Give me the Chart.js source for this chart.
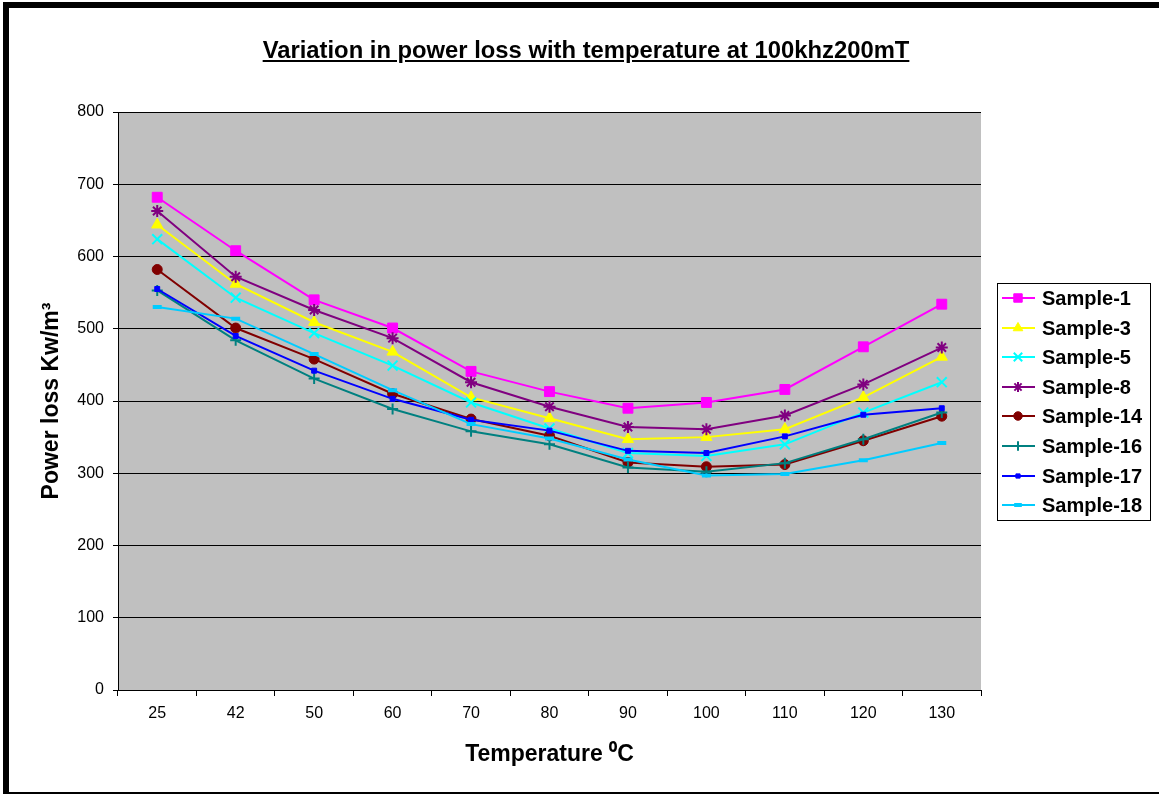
<!DOCTYPE html>
<html>
<head>
<meta charset="utf-8">
<script src="https://cdn.jsdelivr.net/npm/chart.js@4.4.1/dist/chart.umd.min.js"></script>
<style>
  html, body { margin: 0; padding: 0; background: #fff; }
  body { width: 1159px; height: 795px; position: relative; overflow: hidden; font-family: Arial, "Liberation Sans", sans-serif; }
  #frame { position: absolute; left: 3px; top: 2px; width: 1200px; height: 784px; border-left: 6px solid #000; border-top: 6px solid #000; border-bottom: 2px solid #000; }
  #title { position: absolute; left: 0; top: 38px; width: 1172px; text-align: center; font-weight: bold; font-size: 23.8px; line-height: 24px; text-decoration: underline; color: #000; }
  #c { position: absolute; left: 0; top: 0; }
</style>
</head>
<body>
<div id="frame"></div>
<canvas id="c" width="1159" height="795"></canvas>
<div id="title">Variation in power loss with temperature at 100khz200mT</div>
<script>
/* power loss (kW/m3) vs temperature, 100 kHz / 200 mT */
const temps = ['25', '42', '50', '60', '70', '80', '90', '100', '110', '120', '130'];
const sample1  = [682, 608, 540, 501, 441, 413, 390, 398, 416, 475, 534];
const sample3  = [644, 562, 509, 468, 405, 376, 347, 350, 361, 405, 461];
const sample5  = [624, 543, 494, 449, 398, 362, 328, 324, 340, 384, 426];
const sample8  = [663, 572, 526, 487, 426, 392, 364, 361, 380, 423, 474];
const sample14 = [582, 501, 458, 410, 375, 352, 315, 309, 312, 345, 379];
const sample16 = [553, 484, 431, 389, 358, 340, 308, 302, 314, 347, 384];
const sample17 = [555, 490, 442, 403, 374, 359, 331, 328, 351, 381, 390];
const sample18 = [530, 514, 465, 415, 368, 348, 319, 297, 299, 318, 342];
const yMin = 0, yMax = 800, yStep = 100;

function series(label, data, color, style, radius, bw) {
  return { label, data, borderColor: color, backgroundColor: color, borderWidth: 2,
    pointStyle: style, pointRadius: radius, pointHoverRadius: radius, pointBorderWidth: bw,
    pointBorderColor: color, pointBackgroundColor: color, fill: false, tension: 0 };
}

const datasets = [
  series('Sample-1',  sample1,  '#ff00ff', 'rect', 7, 1),
  series('Sample-3',  sample3,  '#ffff00', 'triangle', 6.5, 1),
  series('Sample-5',  sample5,  '#00ffff', 'crossRot', 7, 2),
  series('Sample-8',  sample8,  '#800080', 'star', 6, 2),
  series('Sample-14', sample14, '#800000', 'circle', 5, 1),
  series('Sample-16', sample16, '#008080', 'cross', 5.5, 2),
  series('Sample-17', sample17, '#0000ff', 'rect', 3.5, 1),
  series('Sample-18', sample18, '#00ccff', 'line', 4.5, 4),
];
// excel paints later series on top
datasets.forEach((d, i) => { d.order = datasets.length - i; });

const plotBg = {
  id: 'plotBg',
  beforeDraw(chart) {
    const { ctx, chartArea: a } = chart;
    ctx.save();
    ctx.fillStyle = '#c0c0c0';
    ctx.fillRect(a.left, a.top, a.right - a.left, a.bottom - a.top);
    ctx.restore();
  }
};

// legend in a bordered box, line + marker like the spreadsheet one
const boxLegend = {
  id: 'boxLegend',
  afterDraw(chart) {
    const { ctx, chartArea: a } = chart;
    const x0 = a.right + 16, y0 = 283, w = 153, h = 237, rowH = 29.6;
    ctx.save();
    ctx.fillStyle = '#fff';
    ctx.fillRect(x0, y0, w, h);
    ctx.strokeStyle = '#000';
    ctx.lineWidth = 1;
    ctx.strokeRect(x0 + 0.5, y0 + 0.5, w, h);
    chart.data.datasets.forEach((ds, i) => {
      const y = Math.round(y0 + 15 + i * rowH);
      ctx.strokeStyle = ds.borderColor;
      ctx.fillStyle = ds.backgroundColor;
      ctx.lineWidth = 2;
      ctx.beginPath();
      ctx.moveTo(x0 + 5, y);
      ctx.lineTo(x0 + 38, y);
      ctx.stroke();
      ctx.lineWidth = ds.pointBorderWidth;
      if (Chart.helpers && Chart.helpers.drawPoint) {
        Chart.helpers.drawPoint(ctx, { pointStyle: ds.pointStyle, radius: ds.pointRadius * 0.85, borderWidth: ds.pointBorderWidth, rotation: 0 }, x0 + 21, y);
      }
      ctx.fillStyle = '#000';
      ctx.font = 'bold 20px Arial, "Liberation Sans", sans-serif';
      ctx.textBaseline = 'middle';
      ctx.textAlign = 'left';
      ctx.fillText(ds.label, x0 + 45, y + 1);
    });
    ctx.restore();
  }
};

const ctx = document.getElementById('c').getContext('2d');
new Chart(ctx, {
  type: 'line',
  data: { labels: temps, datasets },
  plugins: [plotBg, boxLegend],
  options: {
    responsive: false,
    animation: false,
    layout: { padding: { left: 10, right: 178, top: 112, bottom: 0 } },
    plugins: { legend: { display: false }, title: { display: false }, tooltip: { enabled: false } },
    scales: {
      x: {
        offset: true,
        grid: { offset: true, drawOnChartArea: false, color: '#000', tickColor: '#000', tickLength: 6 },
        border: { color: '#000', width: 1 },
        ticks: { color: '#000', font: { family: 'Arial', size: 16 }, padding: 8, maxRotation: 0, autoSkip: false },
        title: { display: true, text: 'Temperature \u2070C', color: '#000', font: { family: 'Arial', size: 23, weight: 'bold' }, padding: { top: 0, bottom: 27 } },
        afterFit(s) { s.height = 105; }
      },
      y: {
        min: yMin, max: yMax,
        grid: { color: '#000', tickColor: '#000', tickLength: 5 },
        border: { color: '#000', width: 1 },
        ticks: { stepSize: yStep, color: '#000', font: { family: 'Arial', size: 16 }, padding: 9 },
        title: { display: true, text: 'Power loss Kw/m\u00b3', color: '#000', font: { family: 'Arial', size: 23, weight: 'bold' }, padding: { top: 28, bottom: 0 } },
        afterFit(s) { s.width = 108; }
      }
    }
  }
});
</script>
</body>
</html>
